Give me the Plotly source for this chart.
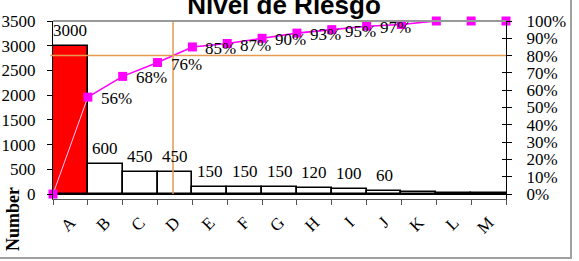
import numpy as np
import plotly.graph_objects as go

# ---------------- data ----------------
categories = ["A", "B", "C", "D", "E", "F", "G", "H", "I", "J", "K", "L", "M"]
counts = [3000, 600, 450, 450, 150, 150, 150, 120, 100, 60, 40, 15, 15]
count_labels = ["3000", "600", "450", "450", "150", "150", "150", "120", "100", "60", "", "", ""]
cum_pct = [0, 56, 68, 76, 85, 87, 90, 93, 95, 97, 98, 100, 100, 100]
cum_labels = ["", "56%", "68%", "76%", "85%", "87%", "90%", "93%", "95%", "97%", "", "", "", ""]
bar_colors = ["#FF0000"] + ["#FFFFFF"] * 12
left_ticks = [0, 500, 1000, 1500, 2000, 2500, 3000, 3500]
right_ticks = [0, 10, 20, 30, 40, 50, 60, 70, 80, 90, 100]
right_tick_text = ["0%", "10%", "20%", "30%", "40%", "50%", "60%", "70%", "80%", "90%", "100%"]
threshold = 80
title_text = "Nivel de Riesgo"
y_title = "Number"

# ---------------- geometry helpers ----------------
W, H = 579, 261
PL, PR, PT, PB = 53, 506, 21, 199
y_min, y_max = -100, 3500
pct_min = y_min / y_max * 100

bar_x = np.arange(len(categories))
cum_x = np.arange(len(cum_pct)) - 0.5
x_cross = float(np.interp(threshold, cum_pct, cum_x))

serif = "Liberation Serif"
fnt = dict(family=serif, size=17, color="black")

fig = go.Figure()

fig.add_trace(go.Bar(
    x=bar_x, y=counts, marker=dict(color=bar_colors, line=dict(color="black", width=1.6)),
    width=1.0, showlegend=False, hoverinfo="skip"))

# first segment (drawn light over the red bar)
fig.add_trace(go.Scatter(
    x=cum_x[:2], y=cum_pct[:2], yaxis="y2", mode="lines",
    line=dict(color="#FFC8FF", width=1), showlegend=False, hoverinfo="skip", cliponaxis=False))
fig.add_trace(go.Scatter(
    x=cum_x[1:], y=cum_pct[1:], yaxis="y2", mode="lines",
    line=dict(color="#FF00FF", width=1.6), showlegend=False, hoverinfo="skip", cliponaxis=False))
fig.add_trace(go.Scatter(
    x=cum_x, y=cum_pct, yaxis="y2", mode="markers",
    marker=dict(symbol="square", size=9, color="#FF00FF"), showlegend=False,
    hoverinfo="skip", cliponaxis=False))
# dummy for inner tick axis
fig.add_trace(go.Scatter(x=[None], y=[None], yaxis="y3", showlegend=False, hoverinfo="skip"))

annotations = []
for i, (v, t) in enumerate(zip(counts, count_labels)):
    if t:
        annotations.append(dict(x=bar_x[i], y=v, xref="x", yref="y", text=t, showarrow=False,
                                yanchor="middle", yshift=15.5, font=fnt))
for i, (p, t) in enumerate(zip(cum_pct, cum_labels)):
    if t:
        annotations.append(dict(x=cum_x[i], y=p, xref="x", yref="y2", text=t, showarrow=False,
                                xanchor="left", yanchor="middle", xshift=11, yshift=-1.5, font=fnt))
annotations.append(dict(x=(13 - PL) / (PR - PL), y=(PB - 219) / (PB - PT), xref="paper", yref="paper",
                        text="<b>" + y_title + "</b>", showarrow=False, textangle=-90,
                        xanchor="center", yanchor="middle",
                        font=dict(family=serif, size=18, color="black")))

shapes = [
    dict(type="line", xref="paper", yref="y2", x0=-0.006, x1=1, y0=threshold, y1=threshold,
         line=dict(color="#E69A50", width=1.5)),
    dict(type="line", xref="x", yref="y2", x0=x_cross, x1=x_cross, y0=0, y1=100,
         line=dict(color="#E69A50", width=1.5)),
    dict(type="line", xref="paper", yref="paper", x0=0, x1=1, y0=1, y1=1,
         line=dict(color="#999999", width=2)),
    dict(type="rect", xref="paper", yref="paper", x0=-0.6, x1=(571 - PL) / (PR - PL),
         y0=(PB - 258) / (PB - PT), y1=1.6, line=dict(color="#A0A0A0", width=2)),
]

fig.update_layout(
    template="none",
    width=W, height=H,
    margin=dict(l=PL, r=W - PR, t=PT, b=H - PB, pad=0),
    paper_bgcolor="white", plot_bgcolor="white",
    bargap=0,
    title=dict(text=title_text, x=284 / W, xanchor="center", xref="container",
               y=1 - 5 / H, yanchor="middle", yref="container",
               font=dict(family="Liberation Sans", size=26, color="black", weight="bold")),
    xaxis=dict(range=[-0.5, len(categories) - 0.5], tickmode="array", tickvals=bar_x,
               ticktext=categories, tickangle=-45, ticks="", showgrid=False, zeroline=False,
               showline=True, linecolor="#555555", linewidth=1, tickfont=fnt,
               ticklabelstandoff=6,
               minor=dict(tickmode="array", tickvals=list(cum_x), ticks="outside", ticklen=5,
                          tickcolor="#555555", showgrid=False),
               automargin=False, fixedrange=True),
    yaxis=dict(range=[y_min, y_max], tickmode="array", tickvals=left_ticks, ticks="outside",
               ticklen=5, tickcolor="black", showline=True, linecolor="black", linewidth=1,
               showgrid=False, zeroline=True, zerolinecolor="black", zerolinewidth=2,
               tickfont=fnt, ticklabelstandoff=8, automargin=False),
    yaxis2=dict(range=[pct_min, 100], overlaying="y", side="right", anchor="x",
                tickmode="array", tickvals=right_ticks, ticktext=right_tick_text, ticks="outside",
                ticklen=5, tickcolor="black", showline=True, linecolor="black", linewidth=1,
                showgrid=False, zeroline=False, tickfont=fnt, ticklabelstandoff=11,
                automargin=False),
    yaxis3=dict(range=[pct_min, 100], overlaying="y", side="right", anchor="x",
                tickmode="array", tickvals=right_ticks, ticks="inside", ticklen=4,
                tickcolor="black", showticklabels=False, showline=False, showgrid=False,
                zeroline=False, automargin=False),
    annotations=annotations,
    shapes=shapes,
)

fig.write_html("out.html")
